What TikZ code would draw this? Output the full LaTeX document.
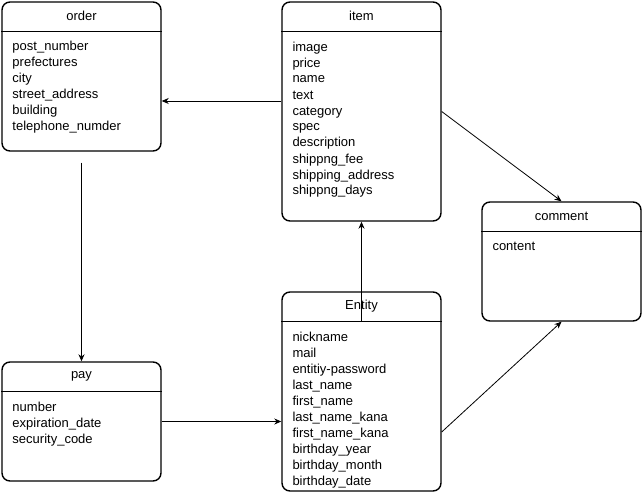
\documentclass[tikz,border=0pt]{standalone}
\usepackage{fontspec}
\setmainfont{Liberation Sans}
\usetikzlibrary{calc,arrows.meta}

\begin{document}
\begin{tikzpicture}[x=1pt,y=-1pt,
    table/.style={draw, line width=1.4pt, rounded corners=8pt, minimum width=159pt, inner sep=0pt},
    head/.style={line width=1.4pt},
    title/.style={inner sep=0pt, font=\fontsize{13}{16}\selectfont},
    fields/.style={anchor=north west, align=left, inner sep=0pt, font=\fontsize{13}{16}\selectfont},
    rel/.style={line width=0.8pt, -{Stealth[length=7pt,width=6pt]}}]

    \useasboundingbox (0,0) rectangle (643,492);

    \node[table, minimum height=149pt] (order) at (81.5,76.5) {};
    \node[table, minimum height=219pt] (item) at (361.5,111.5) {};
    \node[table, minimum height=119pt] (comment) at (561.5,261.5) {};
    \node[table, minimum height=199pt] (Entity) at (361.5,391.5) {};
    \node[table, minimum height=119pt] (pay) at (81.5,421.5) {};

    \draw [head] ($(order.north west)+(0,30)$) -- ($(order.north east)+(0,30)$);
    \draw [head] ($(item.north west)+(0,30)$) -- ($(item.north east)+(0,30)$);
    \draw [head] ($(comment.north west)+(0,30)$) -- ($(comment.north east)+(0,30)$);
    \draw [head] ($(Entity.north west)+(0,30)$) -- ($(Entity.north east)+(0,30)$);
    \draw [head] ($(pay.north west)+(0,30)$) -- ($(pay.north east)+(0,30)$);

    \node[title] (orderT) at ($(order.north)+(0,15)$) {order};
    \node[title] (itemT) at ($(item.north)+(0,15)$) {item};
    \node[title] (commentT) at ($(comment.north)+(0,15)$) {comment};
    \node[title] (EntityT) at ($(Entity.north)+(0,15)$) {Entity};
    \node[title] (payT) at ($(pay.north)+(0,15)$) {pay};

    \node[fields] (orderF) at ($(order.north west)+(11,38.3)$) {\strut post\_number\\prefectures\\city\\street\_address\\building\\telephone\_numder};
    \node[fields] (itemF) at ($(item.north west)+(11,38.3)$) {\strut image\\price\\name\\text\\category\\spec\\description\\shippng\_fee\\shipping\_address\\shippng\_days};
    \node[fields] (commentF) at ($(comment.north west)+(11,38.3)$) {\strut content};
    \node[fields] (EntityF) at ($(Entity.north west)+(11,38.3)$) {\strut nickname\\mail\\entitiy-password\\last\_name\\first\_name\\last\_name\_kana\\first\_name\_kana\\birthday\_year\\birthday\_month\\birthday\_date};
    \node[fields] (payF) at ($(pay.north west)+(11,38.3)$) {\strut number\\expiration\_date\\security\_code};

    \draw [rel] ($(item.west)+(0,-10.5)$) -- ($(order.east)+(0,24.5)$);
    \draw [rel] ($(order.south)+(0,11)$) -- (pay.north);
    \draw [rel] (pay.east) -- (pay.east -| Entity.west);
    \draw [rel] ($(Entity.north)+(0,30)$) -- (item.south);
    \draw [rel] (item.east) -- (comment.north);
    \draw [rel] ($(Entity.east)+(0,40.5)$) -- (comment.south);

\end{tikzpicture}
\end{document}
